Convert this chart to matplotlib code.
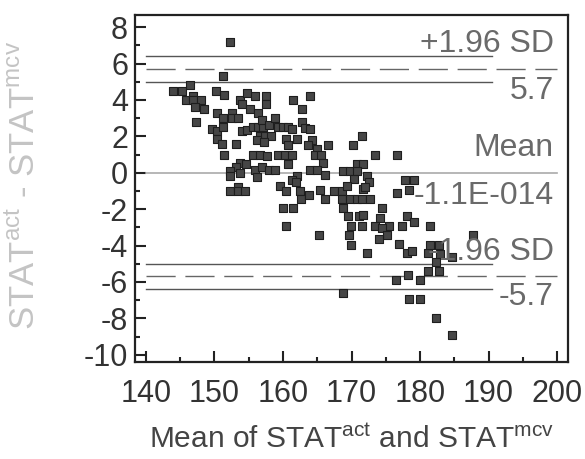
import matplotlib
matplotlib.use("Agg")
import matplotlib.pyplot as plt
from matplotlib.ticker import MultipleLocator

plt.rcParams['font.family'] = ['Liberation Sans', 'DejaVu Sans']
plt.rcParams['axes.unicode_minus'] = False

# mean of the two methods (x) and their difference (y)
mean_vals = [
    152.3, 151.2, 146.4, 144.0, 145.2, 145.9, 146.9, 146.9, 148.0, 147.2,
    148.4, 147.3, 150.2, 151.4, 150.3, 151.3, 152.5, 152.5, 153.5, 149.6,
    150.3, 151.2, 150.4, 151.1, 151.4, 153.1, 153.7, 154.7, 155.9, 154.0,
    155.2, 156.4, 157.5, 157.5, 154.0, 154.8, 155.6, 156.4, 157.1, 157.0,
    157.9, 158.8, 159.2, 160.0, 160.8, 161.3, 156.6, 157.4, 158.2, 156.2,
    157.2, 161.4, 162.7, 164.0, 162.7, 163.2, 163.9, 160.4, 162.0, 160.8,
    164.3, 163.7, 166.5, 164.9, 155.6, 156.6, 157.6, 159.3, 160.3, 161.3,
    164.7, 165.6, 160.8, 165.8, 153.7, 154.6, 153.2, 152.3, 152.3, 153.7,
    155.9, 156.9, 157.9, 158.8, 156.2, 162.0, 163.9, 164.9, 166.1, 161.3,
    161.9, 159.6, 160.5, 152.3, 153.5, 153.5, 154.5, 162.5, 162.6, 163.8,
    165.4, 166.1, 160.0, 161.5, 160.5, 165.3,
    171.5, 170.2, 173.4, 176.6, 170.8, 171.7, 168.8, 169.8, 170.8, 172.2,
    170.3, 172.5, 177.8, 179.1, 178.4, 176.7, 167.4, 168.6, 169.4, 171.7,
    172.0, 168.6, 169.8, 170.8, 171.5, 172.7, 168.8, 174.4, 169.5, 171.1,
    171.7, 174.2, 178.1, 169.9, 171.5, 173.4, 175.5, 177.3, 179.1, 181.5,
    174.4, 169.7, 175.2, 174.0, 169.9, 172.3, 177.0, 178.1, 178.8, 181.2,
    181.5, 182.8, 182.9, 184.6, 182.3, 187.7, 181.2, 182.7, 178.3, 176.5,
    180.0, 168.8, 178.4, 180.0, 182.4, 184.6,
]
diff_vals = [
    7.2, 5.3, 4.8, 4.5, 4.5, 4.0, 4.2, 4.0, 4.0, 3.6,
    3.5, 2.8, 4.5, 4.3, 3.3, 3.0, 3.3, 3.0, 3.0, 2.4,
    2.3, 2.5, 1.85, 1.6, 1.0, 1.6, 4.0, 4.4, 4.2, 3.8,
    3.5, 3.3, 4.2, 3.8, 2.3, 2.35, 2.5, 2.5, 2.5, 2.9,
    2.6, 3.0, 2.5, 2.5, 2.5, 2.4, 2.0, 2.0, 2.0, 1.8,
    1.7, 4.0, 3.5, 4.2, 2.8, 2.45, 2.4, 1.85, 1.85, 1.5,
    1.8, 1.5, 1.55, 1.3, 1.0, 1.0, 0.9, 1.0, 1.0, 1.0,
    1.0, 1.0, 0.5, 0.55, 0.55, 0.5, 0.3, 0.1, -0.15, 0.0,
    0.15, 0.3, 0.15, 0.15, -0.25, -0.15, 0.15, 0.15, -0.1, -0.4,
    -0.5, -0.7, -1.0, -1.0, -0.8, -1.0, -1.0, -1.0, -1.45, -1.2,
    -0.95, -1.45, -1.95, -1.95, -2.9, -3.4,
    2.0, 1.55, 1.0, 1.0, 0.5, 0.5, 0.1, 0.1, 0.1, -0.15,
    -0.35, -0.5, -0.4, -0.4, -0.95, -1.1, -1.0, -1.0, -0.75, -0.9,
    -0.8, -1.45, -1.45, -1.45, -1.45, -1.45, -1.95, -1.95, -2.4, -2.4,
    -2.3, -2.5, -2.4, -2.9, -2.9, -2.9, -2.9, -2.9, -2.7, -2.9,
    -3.05, -3.4, -3.4, -3.65, -3.95, -4.4, -3.9, -4.4, -4.3, -4.4,
    -3.95, -3.95, -4.45, -4.65, -4.9, -3.4, -5.4, -5.4, -5.6, -5.9,
    -5.9, -6.6, -6.95, -6.95, -8.0, -8.9,
]

mean_diff = -1.1e-14
upper_loa = 5.7
lower_loa = -5.7
upper_ci = [5.0, 6.4]
lower_ci = [-6.4, -5.0]

fig = plt.figure(figsize=(5.85, 4.59), dpi=100)
ax = fig.add_axes([0.2308, 0.2113, 0.7402, 0.756])

ax.scatter(mean_vals, diff_vals, s=32, marker='s', facecolor='#464646',
           edgecolor='#1e1e1e', linewidth=0.8, zorder=3)

# mean and limits of agreement
ax.plot([140, 200], [mean_diff, mean_diff], color='#aaaaaa', lw=1.2, zorder=2)
for lim in (upper_loa, lower_loa):
    ax.plot([140, 200], [lim, lim], color='#666666', lw=1.0,
            dashes=(21, 7), zorder=2)
for ci in upper_ci + lower_ci:
    ax.plot([140, 190.5], [ci, ci], color='#555555', lw=1.0, zorder=2)

txt = dict(ha='right', va='center', fontsize=23, color='#6a6a6a', zorder=4)
ax.text(199.5, 7.05, '+1.96 SD', **txt)
ax.text(199.5, 4.5, '5.7', **txt)
ax.text(199.5, 1.35, 'Mean', **txt)
ax.text(199.5, -1.25, '-1.1E-014', **txt)
ax.text(199.5, -4.35, '-1.96 SD', **txt)
ax.text(199.5, -6.85, '-5.7', **txt)

ax.set_xlim(138.4, 201.6)
ax.set_ylim(-10.4, 8.67)
ax.xaxis.set_major_locator(MultipleLocator(10))
ax.xaxis.set_minor_locator(MultipleLocator(5))
ax.yaxis.set_major_locator(MultipleLocator(2))
ax.yaxis.set_minor_locator(MultipleLocator(1))
ax.tick_params(which='both', direction='in', top=False, right=False,
               width=1.5, colors='#222222', labelcolor='#333333')
ax.tick_params(which='major', length=8, labelsize=22)
ax.tick_params(which='minor', length=3.5)
ax.tick_params(axis='y', pad=5)
ax.tick_params(axis='x', pad=12)
for sp in ax.spines.values():
    sp.set_linewidth(1.6)
    sp.set_color('#222222')

ax.set_xlabel(r'Mean of STAT$^{\mathregular{act}}$ and STAT$^{\mathregular{mcv}}$',
              fontsize=21.5, color='#444444', va='center')
ax.xaxis.set_label_coords(0.5, -0.222)
ax.set_ylabel(r'STAT$^{\mathregular{act}}$ - STAT$^{\mathregular{mcv}}$',
              fontsize=25, color='#c4c4c4', va='center', ha='center')
ax.yaxis.set_label_coords(-0.254, 0.51)

fig.savefig('out.png', dpi=100)
